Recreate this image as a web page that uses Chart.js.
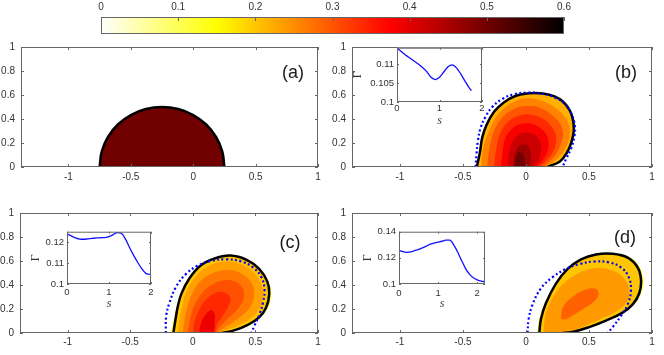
<!DOCTYPE html>
<html>
<head>
<meta charset="utf-8">
<script src="https://cdn.jsdelivr.net/npm/chart.js@4.4.1/dist/chart.umd.min.js"></script>
<style>
html, body { margin: 0; padding: 0; background: #fff; }
body { width: 664px; height: 355px; position: relative; overflow: hidden; font-family: Arial, "Liberation Sans", sans-serif; }
canvas { position: absolute; }
.lbl { position: absolute; z-index: 5; font-size: 18px; line-height: 1; color: #1a1a1a; transform: translate(-50%, -50%); }
</style>
</head>
<body>
<div class="lbl" style="left:293px;top:72px">(a)</div>
<div class="lbl" style="left:626px;top:72px">(b)</div>
<div class="lbl" style="left:290px;top:242px">(c)</div>
<div class="lbl" style="left:625px;top:237px">(d)</div>
<script>
// colour scale (flipped "hot")
var cbarTicks = [0, 0.1, 0.2, 0.3, 0.4, 0.5, 0.6];
var cmapStops = [0, 0.15, 0.375, 0.6];
var cmapColors = ['#ffffff', '#ffff00', '#ff0000', '#000000'];

var xTicks = [-1, -0.5, 0, 0.5, 1];
var yTicks = [0, 0.2, 0.4, 0.6, 0.8, 1];

// (a) initial drop
var aDrop = [[0.25,0],[0.233,0.129],[0.183,0.25],[0.104,0.354],[0,0.433],[-0.121,0.483],[-0.25,0.5],
  [-0.379,0.483],[-0.5,0.433],[-0.604,0.354],[-0.683,0.25],[-0.733,0.129],[-0.75,0]];
var aLevel = 0.5;

// (b)
var bDrop = [[-0.39,0],[-0.365,0.124],[-0.347,0.245],[-0.312,0.352],[-0.253,0.46],[-0.173,0.54],[-0.08,0.594],
  [0.027,0.615],[0.133,0.613],[0.227,0.589],[0.293,0.546],[0.347,0.473],[0.373,0.393],[0.379,0.298],
  [0.36,0.204],[0.32,0.11],[0.267,0.043],[0.187,0.008],[0.17,0]];
var bCirc = [[-0.40,0],[-0.392,0.11],[-0.381,0.218],[-0.36,0.325],[-0.32,0.42],[-0.267,0.5],[-0.187,0.567],
  [-0.093,0.607],[0.013,0.62],[0.12,0.613],[0.227,0.58],[0.307,0.527],[0.36,0.446],[0.387,0.352],
  [0.385,0.26],[0.36,0.16],[0.32,0.07],[0.29,0]];
var bC1 = [[-0.355,0],[-0.34,0.15],[-0.293,0.3],[-0.22,0.44],[-0.1,0.54],[0.01,0.573],[0.13,0.55],[0.25,0.48],[0.33,0.38],[0.347,0.28],[0.32,0.17],[0.25,0.07],[0.16,0]];
var bC2 = [[-0.307,0],[-0.29,0.15],[-0.253,0.3],[-0.18,0.42],[-0.08,0.49],[0.02,0.508],[0.12,0.49],[0.22,0.42],[0.285,0.33],[0.29,0.24],[0.25,0.13],[0.19,0.05],[0.133,0]];
var bC3 = [[-0.253,0],[-0.235,0.15],[-0.205,0.28],[-0.14,0.38],[-0.05,0.43],[0.03,0.438],[0.12,0.41],[0.2,0.34],[0.24,0.25],[0.22,0.14],[0.16,0.05],[0.107,0]];
var bC4 = [[-0.2,0],[-0.185,0.13],[-0.16,0.25],[-0.1,0.33],[-0.03,0.36],[0.04,0.36],[0.12,0.32],[0.175,0.24],[0.17,0.13],[0.12,0.04],[0.08,0]];
var bC5 = [[-0.147,0],[-0.135,0.12],[-0.1,0.22],[-0.04,0.28],[0.02,0.285],[0.08,0.26],[0.12,0.19],[0.11,0.09],[0.075,0.02],[0.053,0]];
var bC6 = [[-0.1,0],[-0.09,0.1],[-0.06,0.17],[-0.02,0.19],[0.02,0.17],[0.04,0.1],[0.035,0.03],[0.027,0]];
var bC7 = [[-0.09,0],[-0.085,0.07],[-0.06,0.12],[-0.035,0.12],[-0.01,0.07],[-0.005,0]];
var bLevels = [0.22, 0.26, 0.30, 0.34, 0.38, 0.42, 0.46, 0.50];

// (c)
var cDrop = [[-0.155,0],[-0.14,0.1],[-0.12,0.22],[-0.09,0.33],[-0.03,0.45],[0.06,0.56],[0.17,0.62],[0.3,0.645],
  [0.43,0.61],[0.53,0.535],[0.595,0.43],[0.61,0.32],[0.585,0.21],[0.53,0.13],[0.44,0.068],[0.33,0.022],[0.23,0]];
var cYellow = [[-0.175,0],[-0.155,0.1],[-0.125,0.22],[-0.09,0.33],[-0.03,0.45],[0.06,0.56],[0.17,0.62],[0.3,0.64],
  [0.43,0.605],[0.535,0.535],[0.605,0.43],[0.625,0.32],[0.6,0.21],[0.53,0.125],[0.44,0.065],[0.33,0.02],[0.23,0]];
var cCirc = [[-0.215,0],[-0.213,0.135],[-0.187,0.25],[-0.133,0.386],[-0.053,0.493],[0.04,0.561],[0.147,0.601],
  [0.267,0.614],[0.387,0.596],[0.48,0.547],[0.547,0.466],[0.573,0.359],[0.56,0.25],[0.533,0.157],[0.493,0.062],[0.467,0]];
var cC1 = [[-0.12,0],[-0.105,0.12],[-0.08,0.25],[-0.04,0.37],[0.03,0.48],[0.13,0.56],[0.26,0.595],[0.39,0.57],[0.49,0.5],[0.55,0.4],[0.56,0.3],[0.53,0.2],[0.46,0.12],[0.36,0.06],[0.26,0.02],[0.21,0]];
var cC2 = [[-0.08,0],[-0.065,0.12],[-0.04,0.23],[0,0.34],[0.07,0.44],[0.16,0.5],[0.27,0.525],[0.38,0.5],[0.46,0.43],[0.49,0.34],[0.47,0.24],[0.41,0.16],[0.32,0.09],[0.24,0.035],[0.2,0]];
var cC3 = [[-0.04,0],[-0.025,0.1],[0,0.2],[0.05,0.3],[0.12,0.38],[0.21,0.43],[0.3,0.44],[0.38,0.4],[0.41,0.32],[0.38,0.23],[0.31,0.15],[0.24,0.08],[0.2,0.03],[0.19,0]];
var cC4 = [[0,0],[0.015,0.1],[0.05,0.19],[0.1,0.27],[0.17,0.33],[0.25,0.34],[0.3,0.29],[0.28,0.21],[0.23,0.13],[0.19,0.06],[0.18,0]];
var cC5 = [[0.05,0],[0.065,0.08],[0.1,0.15],[0.145,0.19],[0.175,0.16],[0.175,0.08],[0.17,0]];
var cLevels = [0.15, 0.20, 0.235, 0.27, 0.305, 0.34, 0.39];

// (d)
var dDrop = [[0.106,0],[0.119,0.116],[0.159,0.25],[0.238,0.412],[0.331,0.534],[0.437,0.614],[0.556,0.655],[0.688,0.66],
  [0.807,0.628],[0.886,0.547],[0.913,0.44],[0.899,0.331],[0.847,0.238],[0.767,0.17],[0.635,0.103],[0.502,0.049],[0.37,0.008],[0.29,0]];
var dYellow = [[0.09,0],[0.105,0.116],[0.15,0.25],[0.235,0.412],[0.331,0.534],[0.437,0.614],[0.556,0.655],[0.69,0.662],
  [0.815,0.635],[0.9,0.55],[0.93,0.44],[0.913,0.331],[0.855,0.235],[0.767,0.17],[0.635,0.103],[0.502,0.049],[0.37,0.008],[0.29,0]];
var dCirc = [[0.013,0],[0.021,0.116],[0.053,0.238],[0.119,0.372],[0.212,0.466],[0.317,0.534],[0.423,0.574],[0.542,0.596],
  [0.661,0.588],[0.754,0.547],[0.815,0.466],[0.833,0.359],[0.807,0.238],[0.754,0.143],[0.688,0.049],[0.648,0]];
var dC1 = [[0.14,0],[0.15,0.12],[0.19,0.25],[0.27,0.38],[0.37,0.47],[0.48,0.525],[0.6,0.54],[0.71,0.51],[0.79,0.44],[0.82,0.35],[0.8,0.26],[0.73,0.19],[0.61,0.125],[0.48,0.065],[0.37,0.018],[0.31,0]];
var dC2 = [[0.278,0.121],[0.291,0.21],[0.357,0.291],[0.45,0.353],[0.542,0.372],[0.577,0.331],[0.542,0.264],[0.45,0.197],[0.357,0.137],[0.304,0.111],[0.278,0.121]];
var dLevels = [0.15, 0.20, 0.24, 0.29];

// insets: Gamma vs s
var sB = [0,0.1,0.2,0.3,0.4,0.5,0.6,0.7,0.8,0.9,1.0,1.1,1.2,1.3,1.4,1.5,1.6,1.7,1.75];
var gB = [0.1142,0.1133,0.1124,0.1116,0.1108,0.1100,0.1091,0.1080,0.1065,0.1059,0.1065,0.1079,0.1093,0.1098,0.1090,0.1074,0.1055,0.1037,0.1030];
var sC = [0,0.1,0.2,0.3,0.4,0.5,0.6,0.7,0.8,0.9,1.0,1.1,1.2,1.3,1.4,1.5,1.6,1.7,1.8,1.9,2.0];
var gC = [0.1240,0.1230,0.1220,0.1215,0.1214,0.1216,0.1218,0.1220,0.1221,0.1222,0.1226,0.1236,0.1246,0.1241,0.1212,0.1170,0.1132,0.1098,0.1068,0.1048,0.1046];
var sD = [0,0.1,0.2,0.3,0.4,0.5,0.6,0.7,0.8,0.9,1.0,1.1,1.2,1.3,1.4,1.5,1.6,1.7,1.8,1.9,2.0,2.1,2.2];
var gD = [0.1258,0.1247,0.1242,0.1245,0.1255,0.1265,0.1277,0.1290,0.1305,0.1313,0.1320,0.1327,0.1335,0.1335,0.1300,0.1245,0.1180,0.1120,0.1075,0.1048,0.1032,0.1022,0.1018];
var insetX = [0, 1, 2];
var bInsetY = [0.1, 0.105, 0.11];
var cInsetY = [0.1, 0.11, 0.12];
var dInsetY = [0.1, 0.12, 0.14];

var tickFont = {family: 'Arial, "Liberation Sans", sans-serif', size: 10};
var serif = '"Times New Roman", "Liberation Serif", serif';
var tickColor = '#333';

function hex(h) { return [1, 3, 5].map(function (i) { return parseInt(h.substr(i, 2), 16); }); }
function cmap(v) {
  for (var i = 1; i < cmapStops.length; i++) {
    if (v <= cmapStops[i]) {
      var t = (v - cmapStops[i - 1]) / (cmapStops[i] - cmapStops[i - 1]);
      var a = hex(cmapColors[i - 1]), b = hex(cmapColors[i]);
      return 'rgb(' + a.map(function (c, k) { return Math.round(c + (b[k] - c) * t); }).join(',') + ')';
    }
  }
  return cmapColors[cmapColors.length - 1];
}
function pts(arr) { return arr.map(function (p) { return {x: p[0], y: p[1]}; }); }

// box + inward ticks, MATLAB style
var frame = {
  id: 'frame',
  beforeDraw: function (chart, args, o) {
    if (!o.bg) return;
    var a = chart.chartArea, ctx = chart.ctx;
    ctx.save(); ctx.fillStyle = o.bg;
    ctx.fillRect(a.left, a.top, a.right - a.left, a.bottom - a.top);
    ctx.restore();
  },
  afterDraw: function (chart, args, o) {
    var a = chart.chartArea, ctx = chart.ctx, sx = chart.scales.x, sy = chart.scales.y;
    var L = o.len;
    ctx.save();
    ctx.strokeStyle = o.color; ctx.lineWidth = 1;
    ctx.beginPath();
    sx.ticks.forEach(function (t) {
      var p = Math.round(sx.getPixelForValue(t.value)) + 0.5;
      if (o.xSides.indexOf('bottom') >= 0) { ctx.moveTo(p, a.bottom); ctx.lineTo(p, a.bottom - L); }
      if (o.xSides.indexOf('top') >= 0) { ctx.moveTo(p, a.top); ctx.lineTo(p, a.top + L); }
    });
    if (o.ySides.length) {
      sy.ticks.forEach(function (t) {
        var p = Math.round(sy.getPixelForValue(t.value)) + 0.5;
        if (o.ySides.indexOf('left') >= 0) { ctx.moveTo(a.left, p); ctx.lineTo(a.left + L, p); }
        if (o.ySides.indexOf('right') >= 0) { ctx.moveTo(a.right, p); ctx.lineTo(a.right - L, p); }
      });
    }
    ctx.stroke();
    ctx.strokeRect(a.left + 0.5, a.top + 0.5, a.right - a.left - 1, a.bottom - a.top - 1);
    ctx.restore();
  }
};

function makeCanvas(b, AL, AT, AR, AB) {
  var c = document.createElement('canvas');
  c.width = b.w + AL + AR; c.height = b.h + AT + AB;
  c.style.left = (b.left - AL) + 'px'; c.style.top = (b.top - AT) + 'px';
  c.style.width = c.width + 'px'; c.style.height = c.height + 'px';
  document.body.appendChild(c);
  return c;
}

function fillSet(arr, level) {
  return {data: pts(arr), showLine: true, fill: 'shape', backgroundColor: cmap(level),
    borderWidth: 0, borderColor: 'transparent', pointRadius: 0, tension: 0.4};
}
function lineSet(arr, color, dash) {
  return {data: pts(arr), showLine: true, fill: false, borderColor: color, borderWidth: dash ? 2.2 : 2.5,
    borderDash: dash || [], borderCapStyle: 'butt', pointRadius: 0, tension: 0.4};
}

function panel(box, painted) {
  var AL = 20, AT = 8, AR = 10, AB = 22;
  var cv = makeCanvas(box, AL, AT, AR, AB);
  // first dataset ends up on top
  var ds = painted.slice().reverse();
  return new Chart(cv, {
    type: 'scatter',
    data: {datasets: ds},
    options: {
      responsive: false, animation: false, events: [],
      layout: {padding: {left: 0, top: AT, right: AR, bottom: 0}},
      plugins: {legend: {display: false}, tooltip: {enabled: false},
        frame: {color: '#666', len: 3, xSides: ['top', 'bottom'], ySides: ['left', 'right']}},
      scales: {
        x: {type: 'linear', min: -1.38, max: 1,
          afterFit: function (s) { s.height = AB; },
          afterBuildTicks: function (s) { s.ticks = xTicks.map(function (v) { return {value: v}; }); },
          grid: {display: false, drawTicks: false}, border: {display: false},
          ticks: {padding: box.xpad, font: tickFont, color: tickColor, maxRotation: 0, autoSkip: false,
            callback: function (v) { return String(v); }}},
        y: {type: 'linear', min: 0, max: 1,
          afterFit: function (s) { s.width = AL; },
          afterBuildTicks: function (s) { s.ticks = yTicks.map(function (v) { return {value: v}; }); },
          grid: {display: false, drawTicks: false}, border: {display: false},
          ticks: {padding: 6, font: tickFont, color: tickColor, autoSkip: false,
            callback: function (v) { return String(v); }}}
      }
    },
    plugins: [frame]
  });
}

function inset(box, s, g, xmax, ymax, yT) {
  var AT = 7, AR = 6, AB = 27;
  var cv = makeCanvas(box, box.AL, AT, AR, AB);
  var f = {family: tickFont.family, size: 9.5};
  return new Chart(cv, {
    type: 'scatter',
    data: {datasets: [{data: s.map(function (v, i) { return {x: v, y: g[i]}; }), showLine: true,
      borderColor: '#1010ff', borderWidth: 1.3, pointRadius: 0, cubicInterpolationMode: 'monotone'}]},
    options: {
      responsive: false, animation: false, events: [],
      layout: {padding: {left: 0, top: AT, right: AR, bottom: 0}},
      plugins: {legend: {display: false}, tooltip: {enabled: false},
        frame: {color: '#666', len: 2, bg: '#fff', xSides: ['top', 'bottom'], ySides: ['left', 'right']}},
      scales: {
        x: {type: 'linear', min: 0, max: xmax,
          afterFit: function (sc) { sc.height = box.AB || AB; },
          afterBuildTicks: function (sc) { sc.ticks = insetX.map(function (v) { return {value: v}; }); },
          grid: {display: false, drawTicks: false}, border: {display: false},
          title: {display: true, text: 's', padding: 0, color: '#444', font: {family: serif, style: 'italic', size: 12}},
          ticks: {padding: box.xpad, font: f, color: tickColor, maxRotation: 0, autoSkip: false,
            callback: function (v) { return String(v); }}},
        y: {type: 'linear', min: 0.1, max: ymax,
          afterFit: function (sc) { sc.width = box.AL; },
          afterBuildTicks: function (sc) { sc.ticks = yT.map(function (v) { return {value: v}; }); },
          grid: {display: false, drawTicks: false}, border: {display: false},
          title: {display: true, text: 'Γ', padding: 0, color: '#333', font: {family: serif, size: 12}},
          ticks: {padding: 3, font: f, color: tickColor, autoSkip: false,
            callback: function (v) { return String(v); }}}
      }
    },
    plugins: [frame]
  });
}

// colour bar
(function () {
  var box = {left: 101, top: 17, w: 463, h: 17};
  var AL = 12, AT = 17, AR = 14, AB = 2;
  var cv = makeCanvas(box, AL, AT, AR, AB);
  new Chart(cv, {
    type: 'bar',
    data: {labels: [''], datasets: [{
      data: [[cbarTicks[0], cbarTicks[cbarTicks.length - 1]]],
      barPercentage: 1, categoryPercentage: 1, borderWidth: 0,
      backgroundColor: function (c) {
        var ch = c.chart, sx = ch.scales.x;
        if (!ch.chartArea || !sx) return '#fff';
        var x0 = sx.getPixelForValue(cmapStops[0]), x1 = sx.getPixelForValue(cmapStops[cmapStops.length - 1]);
        var gr = ch.ctx.createLinearGradient(x0, 0, x1, 0);
        cmapStops.forEach(function (v, i) { gr.addColorStop((v - cmapStops[0]) / (cmapStops[cmapStops.length - 1] - cmapStops[0]), cmapColors[i]); });
        return gr;
      }
    }]},
    options: {
      indexAxis: 'y', responsive: false, animation: false, events: [],
      layout: {padding: {left: AL, top: 0, right: AR, bottom: AB}},
      plugins: {legend: {display: false}, tooltip: {enabled: false},
        frame: {color: '#666', len: 4, xSides: ['top'], ySides: []}},
      scales: {
        x: {type: 'linear', position: 'top', min: cbarTicks[0], max: cbarTicks[cbarTicks.length - 1],
          afterFit: function (s) { s.height = AT; },
          afterBuildTicks: function (s) { s.ticks = cbarTicks.map(function (v) { return {value: v}; }); },
          grid: {display: false, drawTicks: false}, border: {display: false},
          ticks: {padding: 4, font: tickFont, color: tickColor, maxRotation: 0, autoSkip: false,
            callback: function (v) { return String(v); }}},
        y: {display: false}
      }
    },
    plugins: [frame]
  });
})();

// main panels (datasets listed bottom to top)
panel({left: 21, top: 43, w: 297, h: 124, xpad: 4}, [
  fillSet(aDrop, aLevel),
  lineSet(aDrop, '#000')
]);

var bSets = [bDrop, bC1, bC2, bC3, bC4, bC5, bC6, bC7].map(function (a, i) { return fillSet(a, bLevels[i]); });
panel({left: 352, top: 43, w: 300, h: 124, xpad: 4}, bSets.concat([
  lineSet(bDrop, '#000'),
  lineSet(bCirc, '#0000ff', [2, 2.5])
]));

var cSets = [cYellow, cDrop, cC1, cC2, cC3, cC4, cC5].map(function (a, i) { return fillSet(a, cLevels[i]); });
panel({left: 20, top: 209, w: 298, h: 124, xpad: 3}, cSets.concat([
  lineSet(cDrop, '#000'),
  lineSet(cCirc, '#0000ff', [2, 2.5])
]));

var dSets = [dYellow, dDrop, dC1, dC2].map(function (a, i) { return fillSet(a, dLevels[i]); });
panel({left: 352, top: 209, w: 300, h: 124, xpad: 3}, dSets.concat([
  lineSet(dDrop, '#000'),
  lineSet(dCirc, '#0000ff', [2, 2.5])
]));

// insets
inset({left: 397, top: 46, w: 85, h: 55, AL: 46, AB: 26, xpad: 1}, sB, gB, 2, 0.1143, bInsetY);
inset({left: 67, top: 230, w: 84, h: 54, AL: 38, xpad: 3}, sC, gC, 2, 0.125, cInsetY);
inset({left: 399, top: 230, w: 86, h: 54, AL: 38, xpad: 4}, sD, gD, 2.2, 0.14, dInsetY);
</script>
</body>
</html>
